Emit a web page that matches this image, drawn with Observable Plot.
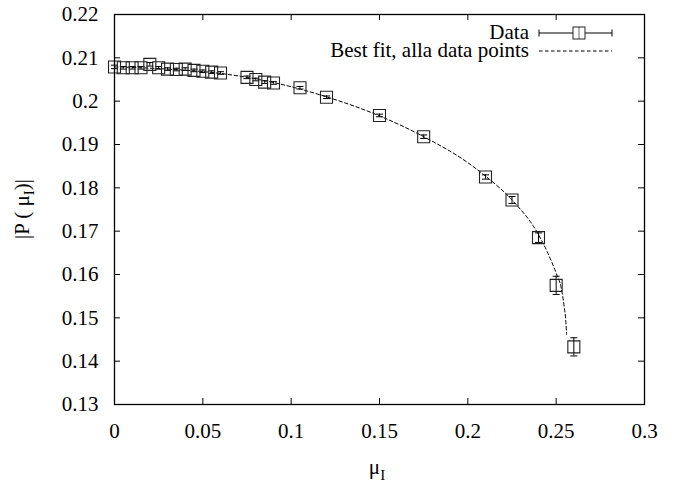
<!DOCTYPE html>
<html><head><meta charset="utf-8">
<script src="https://cdn.jsdelivr.net/npm/d3@7"></script>
<script src="https://cdn.jsdelivr.net/npm/@observablehq/plot@0.6"></script>
<style>body{margin:0;background:#fff} svg{display:block}</style>
</head><body><div id="chart"></div>
<script>
// ---- data ----
const mu  = [0, 0.005, 0.01, 0.015, 0.02, 0.025, 0.03, 0.035, 0.04, 0.045, 0.05, 0.055, 0.06,
             0.075, 0.08, 0.085, 0.09, 0.105, 0.12, 0.15, 0.175, 0.21, 0.225, 0.24, 0.25, 0.26];
const P   = [0.2079, 0.2077, 0.2077, 0.2077, 0.2085, 0.2077, 0.2074, 0.2073, 0.2074, 0.2071, 0.2069, 0.2067, 0.2065,
             0.2055, 0.2050, 0.2044, 0.2042, 0.2031, 0.2009, 0.1967, 0.1918, 0.1825, 0.1772, 0.1685, 0.1575, 0.1433];
const err = [0.0004, 0.0003, 0.0003, 0.0003, 0.0004, 0.0003, 0.0003, 0.0003, 0.0003, 0.0003, 0.0003, 0.0003, 0.0003,
             0.0003, 0.0003, 0.0003, 0.0003, 0.0003, 0.0003, 0.0003, 0.0004, 0.0005, 0.0008, 0.0011, 0.0021, 0.0021];
const fitMu = [0, 0.03, 0.06, 0.09, 0.12, 0.15, 0.175, 0.2, 0.21, 0.225, 0.24, 0.245, 0.25, 0.2527, 0.2545, 0.2555, 0.2559];
const fitP  = [0.2079, 0.2074, 0.2064, 0.2043, 0.2010, 0.1966, 0.1918, 0.1858, 0.1827, 0.1772, 0.1692, 0.1652, 0.1603, 0.1572, 0.1527, 0.1490, 0.1462];
const xTicks = [0, 0.05, 0.1, 0.15, 0.2, 0.25, 0.3];
const yTicks = [0.13, 0.14, 0.15, 0.16, 0.17, 0.18, 0.19, 0.2, 0.21, 0.22];
const legendLabels = ["Data", "Best fit, alla data points"];

const data = mu.map((m, i) => ({mu: m, p: P[i], lo: P[i] - err[i], hi: P[i] + err[i]}));
const fit = fitMu.map((m, i) => ({mu: m, p: fitP[i]}));

const W = 678, H = 484, mL = 114, mR = 34, mT = 14, mB = 80;
const fw = W - mL - mR, fh = H - mT - mB;
const FONT = "'Liberation Serif', 'Times New Roman', Times, 'DejaVu Serif', serif";

// custom symbols: half-size = r
const square = {draw(ctx, size) { const s = Math.sqrt(size / Math.PI); ctx.rect(-s, -s, 2 * s, 2 * s); }};
const hcap = {draw(ctx, size) { const s = Math.sqrt(size / Math.PI); ctx.moveTo(-s, 0); ctx.lineTo(s, 0); }};

const chart = Plot.plot({
  width: W, height: H,
  marginLeft: mL, marginRight: mR, marginTop: mT, marginBottom: mB,
  style: {fontFamily: FONT, fontSize: "21px", color: "#000", background: "#fff"},
  x: {domain: [0, 0.3]},
  y: {domain: [0.13, 0.22]},
  marks: [
    Plot.tickX(xTicks, {x: d => d, insetTop: fh - 6, stroke: "#000"}),
    Plot.tickX(xTicks, {x: d => d, insetBottom: fh - 6, stroke: "#000"}),
    Plot.tickY(yTicks, {y: d => d, insetRight: fw - 6, stroke: "#000"}),
    Plot.tickY(yTicks, {y: d => d, insetLeft: fw - 6, stroke: "#000"}),
    Plot.axisX({ticks: xTicks, tickSize: 0, tickPadding: 19, label: null, tickFormat: d => String(d)}),
    Plot.axisY({ticks: yTicks, tickSize: 0, tickPadding: 16, label: null, tickFormat: d => String(d)}),
    Plot.line(fit, {x: "mu", y: "p", curve: "monotone-x", stroke: "#000", strokeWidth: 1, strokeDasharray: "3.5,2.5"}),
    Plot.ruleX(data, {x: "mu", y1: "lo", y2: "hi", stroke: "#000", strokeWidth: 1}),
    Plot.dot(data, {x: "mu", y: "lo", symbol: hcap, r: 3.5, stroke: "#000", strokeWidth: 1}),
    Plot.dot(data, {x: "mu", y: "hi", symbol: hcap, r: 3.5, stroke: "#000", strokeWidth: 1}),
    Plot.dot(data, {x: "mu", y: "p", symbol: square, r: 6, stroke: "#222", strokeWidth: 1.1, fill: "none"}),
    Plot.frame({stroke: "#000", strokeWidth: 1.3})
  ]
});

const svg = d3.select(chart);
// axis titles with subscripts
const yl = svg.append("text")
  .attr("transform", "translate(29,209) rotate(-90)")
  .attr("text-anchor", "middle")
  .style("font-family", FONT).attr("font-size", 21).attr("fill", "#000");
yl.append("tspan").text("|P ( \u03bc");
yl.append("tspan").attr("font-size", 15).attr("dy", 5).text("I");
yl.append("tspan").attr("dy", -5).text(")|");

const xl = svg.append("text")
  .attr("x", 377).attr("y", 474)
  .attr("text-anchor", "middle")
  .style("font-family", FONT).attr("font-size", 21).attr("fill", "#000");
xl.append("tspan").text("\u03bc");
xl.append("tspan").attr("font-size", 15).attr("dy", 6).text("I");

// legend
const lg = svg.append("g").style("font-family", FONT).attr("font-size", 21).attr("fill", "#000");
legendLabels.forEach((t, i) => {
  lg.append("text").attr("x", 529).attr("y", 39 + i * 18).attr("text-anchor", "end").text(t);
});
const ly0 = 33, ly1 = 51;
lg.append("line").attr("x1", 539).attr("x2", 612).attr("y1", ly0).attr("y2", ly0).attr("stroke", "#000");
lg.append("line").attr("x1", 539).attr("x2", 539).attr("y1", ly0 - 3.5).attr("y2", ly0 + 3.5).attr("stroke", "#000");
lg.append("line").attr("x1", 612).attr("x2", 612).attr("y1", ly0 - 3.5).attr("y2", ly0 + 3.5).attr("stroke", "#000");
lg.append("rect").attr("x", 573).attr("y", ly0 - 6).attr("width", 12).attr("height", 12).attr("fill", "#fff").attr("stroke", "#222");
lg.append("line").attr("x1", 579).attr("x2", 579).attr("y1", ly0 - 6).attr("y2", ly0 + 6).attr("stroke", "#000").attr("stroke-width", 0.6);
lg.append("line").attr("x1", 539).attr("x2", 612).attr("y1", ly1).attr("y2", ly1).attr("stroke", "#000").attr("stroke-dasharray", "3.5,2.5");

document.getElementById("chart").appendChild(chart);
</script>
</body></html>
